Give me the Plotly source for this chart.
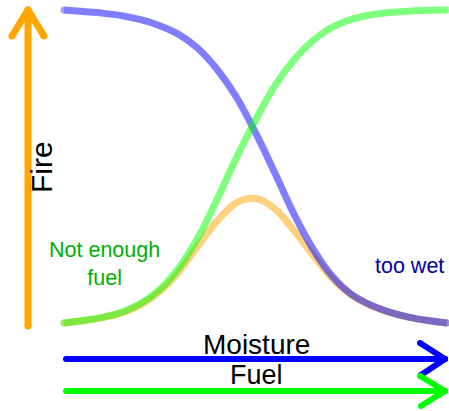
import plotly.graph_objects as go

# Moisture scale positions (0 = dry, 10 = saturated), evenly spaced
x_pos = [0.0, 0.5, 1.0, 1.5, 2.0, 2.5, 3.0, 3.5, 4.0, 4.5, 5.0,
         5.5, 6.0, 6.5, 7.0, 7.5, 8.0, 8.5, 9.0, 9.5, 10.0]

# Relative levels (0..1) of each factor along the moisture scale
moisture_level = [1.0, 0.995, 0.990, 0.982, 0.969, 0.950, 0.922, 0.877, 0.810, 0.722, 0.608,
                  0.481, 0.349, 0.237, 0.150, 0.092, 0.058, 0.035, 0.019, 0.008, 0.0]
fuel_level = [0.0, 0.008, 0.018, 0.034, 0.062, 0.107, 0.176, 0.273, 0.396, 0.528, 0.648,
              0.757, 0.840, 0.902, 0.945, 0.970, 0.984, 0.992, 0.996, 0.999, 1.0]
fire_level = [0.0, 0.007, 0.017, 0.032, 0.058, 0.100, 0.164, 0.247, 0.326, 0.384, 0.398,
              0.366, 0.296, 0.217, 0.143, 0.090, 0.056, 0.034, 0.018, 0.008, 0.0]

W, H = 449, 411
FONT = "Liberation Sans, Arial, sans-serif"


def px(x):
    return x / W


def py(y):
    return 1 - y / H


def end_sizes(n, s):
    return [s] + [0] * (n - 2) + [s]


fig = go.Figure()

# Fire first, then moisture and fuel drawn translucently over it
for ys, col in [(fire_level, "rgb(255,165,0)"),
                (moisture_level, "rgb(0,0,255)"),
                (fuel_level, "rgb(0,255,0)")]:
    fig.add_trace(go.Scatter(
        x=x_pos, y=ys, mode="lines+markers",
        line=dict(color=col, width=7, shape="spline", smoothing=1.0),
        marker=dict(color=col, size=end_sizes(len(x_pos), 7), line=dict(width=0)),
        opacity=0.5, hoverinfo="skip", showlegend=False,
    ))

shapes = []


def seg(x0, y0, x1, y1, col, w):
    """Straight stroke with rounded ends, in page pixels."""
    shapes.append(dict(type="line", xref="paper", yref="paper",
                       x0=px(x0), y0=py(y0), x1=px(x1), y1=py(y1),
                       line=dict(color=col, width=w)))
    for (cx, cy) in [(x0, y0), (x1, y1)]:
        r = w / 2
        shapes.append(dict(type="circle", xref="paper", yref="paper",
                           x0=px(cx - r), x1=px(cx + r), y0=py(cy + r), y1=py(cy - r),
                           fillcolor=col, line=dict(width=0)))


# Fire arrow (vertical)
ORANGE = "#ffa500"
seg(28, 326, 28, 10, ORANGE, 7)
seg(28, 10, 12, 36, ORANGE, 7)
seg(28, 10, 44, 36, ORANGE, 7)

# Moisture arrow
BLUE = "#0000ff"
seg(66, 359, 445, 359, BLUE, 6)
seg(445, 359, 420, 343, BLUE, 6)
seg(445, 359, 421, 375, BLUE, 6)

# Fuel arrow
GREEN = "#00ff00"
seg(66, 391, 445, 391, GREEN, 6)
seg(445, 391, 420, 376, GREEN, 6)
seg(445, 391, 421, 406, GREEN, 6)

annotations = [
    dict(text="Fire", x=px(41), y=py(167), textangle=-90,
         font=dict(size=30, color="black", family=FONT)),
    dict(text="Moisture", x=px(256), y=py(344),
         font=dict(size=28, color="black", family=FONT)),
    dict(text="Fuel", x=px(256), y=py(375),
         font=dict(size=27, color="black", family=FONT)),
    dict(text="Not enough<br>fuel", x=px(104), y=py(264),
         font=dict(size=21.5, color="rgb(0,176,0)", family=FONT)),
    dict(text="too wet", x=px(409), y=py(266),
         font=dict(size=21.5, color="rgb(0,0,160)", family=FONT)),
]
for a in annotations:
    a.update(xref="paper", yref="paper", xanchor="center", yanchor="middle",
             showarrow=False)

fig.update_layout(
    width=W, height=H,
    margin=dict(l=0, r=0, t=0, b=0),
    paper_bgcolor="white", plot_bgcolor="white",
    xaxis=dict(range=[-64 / 38.3, (W - 64) / 38.3], visible=False, fixedrange=True),
    yaxis=dict(range=[(323 - H) / 313, 323 / 313], visible=False, fixedrange=True),
    shapes=shapes, annotations=annotations,
)

fig.write_html("out.html", config={"displayModeBar": False})
